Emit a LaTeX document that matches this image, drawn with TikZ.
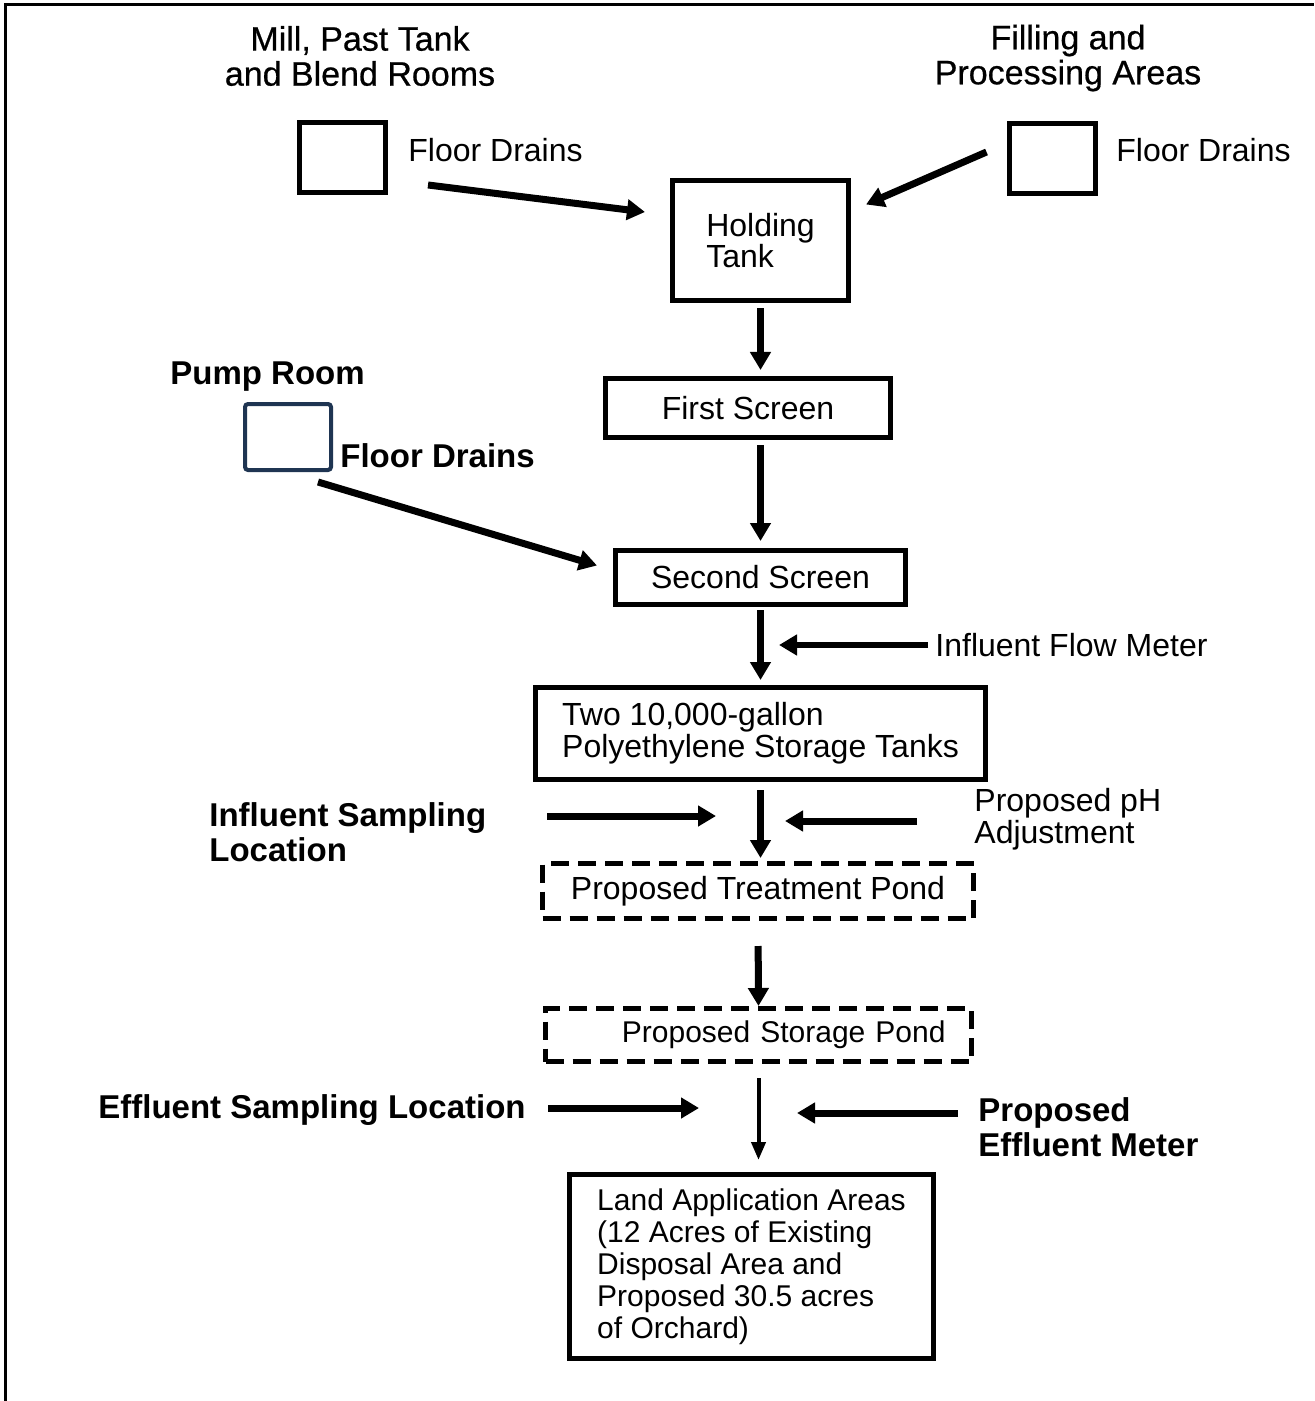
\documentclass[tikz,border=0pt]{standalone}
\usepackage{fontspec}
\setmainfont{Liberation Sans}
\newfontfamily\headfont[FakeBold=0.6]{Liberation Sans}
\usetikzlibrary{arrows.meta}
\definecolor{pumpblue}{HTML}{1F3552}

\begin{document}
\begin{tikzpicture}[x=0.5pt, y=-0.5pt,
    every node/.style={inner sep=0pt, font=\fontsize{16}{16}\selectfont},
    stage/.style={draw, line width=2.5pt, align=center},
    pond/.style={stage, dash pattern=on 9pt off 4.5pt},
    drain/.style={draw, line width=2.5pt, minimum width=43pt, minimum height=35pt},
    note/.style={anchor=west, align=left},
    boldnote/.style={note, font=\bfseries\fontsize{16.5}{17.5}\selectfont},
    heading/.style={align=center, font=\headfont\fontsize{17}{17.5}\selectfont},
    flow/.style={line width=3.5pt, -{Triangle[width=10pt,length=9pt]}},
    thinflow/.style={line width=2pt, -{Triangle[width=7pt,length=9pt]}}]
\useasboundingbox (0,0) rectangle (1314,1401);
\draw[line width=1.5pt] (5,1401) -- (5,5) -- (1314,5);

\node[heading] (millhead) at (360,56) {Mill, Past Tank\\and Blend Rooms};
\node[heading] (fillhead) at (1068,58) {Filling and\\Processing Areas};
\node[drain] (milldrain) at (342.5,158) {};
\node[drain] (filldrain) at (1052,159) {};
\node[note] (millfd) at (408,150) {Floor Drains};
\node[note] (fillfd) at (1116,150) {Floor Drains};
\node[boldnote] (pumphead) at (170,377) {Pump Room};
\node[drain, draw=pumpblue, line width=2pt, rounded corners=1.5pt, minimum height=33pt] (pumpdrain) at (288,437) {};
\node[boldnote] (pumpfd) at (340,456) {Floor Drains};

\node[stage, align=left, minimum width=88pt, minimum height=60pt, font=\fontsize{16}{15.5}\selectfont] (tank) at (760.5,241) {Holding\\Tank};
\node[stage, minimum width=142.5pt, minimum height=29.5pt] (screen1) at (748,408) {First Screen};
\node[stage, minimum width=145pt, minimum height=27pt] (screen2) at (760.5,577.5) {Second Screen};
\node[stage, align=left, minimum width=225pt, minimum height=46pt] (tanks) at (760.5,733.5) {Two 10,000-gallon\\Polyethylene Storage Tanks};
\node[pond, minimum width=215.5pt, minimum height=27.5pt] (tpond) at (758,891) {Proposed Treatment Pond};
\node[pond, align=right, text width=187pt, inner xsep=13pt, minimum height=26.5pt, font=\fontsize{15}{15}\selectfont] (spond) at (758.5,1035) {Proposed Storage Pond};
\node[stage, align=left, minimum width=182pt, minimum height=92pt, font=\fontsize{15}{16}\selectfont] (land) at (751.5,1266.5) {Land Application Areas\\(12 Acres of Existing\\Disposal Area and\\Proposed 30.5 acres\\of Orchard)};

\node[note] (flowmeter) at (935,645) {Influent Flow Meter};
\node[note] (phadj) at (974,819) {Proposed pH\\Adjustment};
\node[boldnote] (insample) at (209,832) {Influent Sampling\\Location};
\node[boldnote] (effsample) at (98,1110) {Effluent Sampling Location};
\node[boldnote] (effmeter) at (978,1127) {Proposed\\Effluent Meter};

\coordinate (flowmeter-b) at (779,645);
\coordinate (insample-a) at (547,816);
\coordinate (insample-b) at (716,816);
\coordinate (phadj-a) at (917,821);
\coordinate (phadj-b) at (785,821);
\coordinate (effsample-a) at (548,1108);
\coordinate (effsample-b) at (699,1108);
\coordinate (effmeter-a) at (958,1113);
\coordinate (effmeter-b) at (797,1113);

\draw[flow] ([shift={(40,27)}]milldrain.east) -- ([shift={(-25,-29)}]tank.west);
\draw[flow] ([shift={(-20,-7)}]filldrain.west) -- ([shift={(15,26)}]tank.north east);
\draw[flow, shorten <=2.5pt, shorten >=3pt] (tank.south) -- (tank.south |- screen1.north);
\draw[flow, shorten <=2.5pt, shorten >=3.5pt] (screen1.south -| screen2.north) -- (screen2.north);
\draw[flow] ([shift={(-15,10)}]pumpdrain.south east) -- ([shift={(-16,-12)}]screen2.west);
\draw[flow, shorten <=1.5pt, shorten >=2.5pt] (screen2.south) -- (tanks.north);
\draw[flow, line width=3pt, shorten <=3.5pt] (flowmeter.west) -- (flowmeter-b);
\draw[flow, shorten <=4pt, shorten >=1.5pt] (tanks.south) -- (tanks.south |- tpond.north);
\draw[flow] (insample-a) -- (insample-b);
\draw[flow] (phadj-a) -- (phadj-b);
\draw[flow, shorten <=12.5pt] (tpond.south) -- (spond.north);
\draw[thinflow, shorten <=7pt, shorten >=6pt] (spond.south) -- (spond.south |- land.north);
\draw[flow] (effsample-a) -- (effsample-b);
\draw[flow] (effmeter-a) -- (effmeter-b);
\end{tikzpicture}
\end{document}
